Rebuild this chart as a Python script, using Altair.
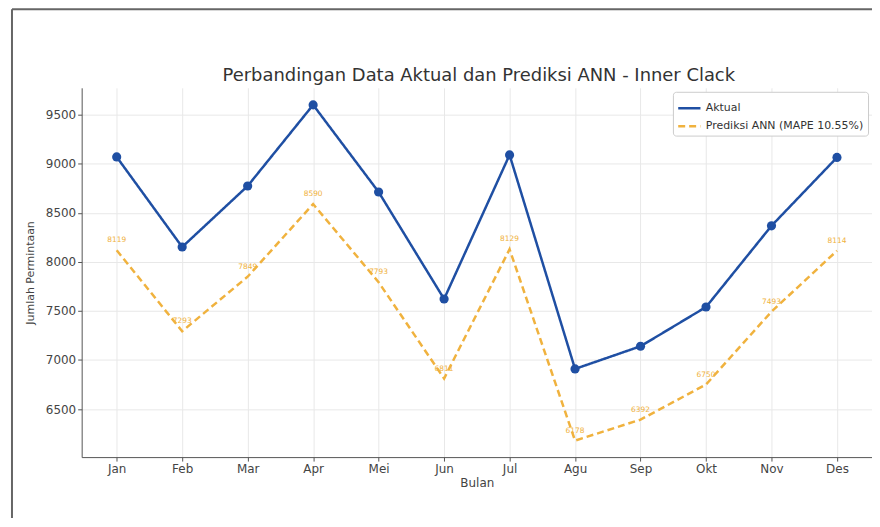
import altair as alt
import pandas as pd

months = ["Jan", "Feb", "Mar", "Apr", "Mei", "Jun", "Jul", "Agu", "Sep", "Okt", "Nov", "Des"]
aktual = [9070, 8152, 8774, 9601, 8713, 7622, 9091, 6909, 7140, 7540, 8368, 9065]
prediksi = [8119, 7293, 7849, 8590, 7793, 6811, 8129, 6178, 6392, 6750, 7493, 8114]
series_names = ["Aktual", "Prediksi ANN (MAPE 10.55%)"]
y_ticks = [6500, 7000, 7500, 8000, 8500, 9000, 9500]
title_text = "Perbandingan Data Aktual dan Prediksi ANN - Inner Clack"

BLUE = "#1f4fa3"
ORANGE = "#f0b23e"

rows = []
for m, a, p in zip(months, aktual, prediksi):
    rows.append({"Bulan": m, "Seri": series_names[0], "Nilai": a})
    rows.append({"Bulan": m, "Seri": series_names[1], "Nilai": p})
df = pd.DataFrame(rows)

x = alt.X("Bulan:N", sort=months, title="Bulan",
          scale=alt.Scale(type="point", padding=0.535),
          axis=alt.Axis(labelAngle=0, grid=True, titlePadding=4, titleFontSize=12))
y = alt.Y("Nilai:Q", title="Jumlah Permintaan",
          scale=alt.Scale(domain=[6010, 9775], nice=False, zero=False),
          axis=alt.Axis(values=y_ticks, format="d", grid=True, titlePadding=10))

base = alt.Chart(df).encode(x=x, y=y)

lines = base.mark_line(strokeWidth=2.5).encode(
    color=alt.Color("Seri:N", scale=alt.Scale(domain=series_names, range=[BLUE, ORANGE]),
                    legend=alt.Legend(title=None, orient="top-right", offset=4,
                                      symbolType="stroke", symbolSize=500,
                                      symbolStrokeWidth=2.5, labelFontSize=11,
                                      labelColor="#333", padding=4, rowPadding=-5,
                                      fillColor="white", strokeColor="#cccccc",
                                      cornerRadius=3)),
    strokeDash=alt.StrokeDash("Seri:N", scale=alt.Scale(domain=series_names, range=[[1, 0], [7, 4]]),
                              legend=None),
)

points = base.transform_filter(alt.datum.Seri == series_names[0]).mark_circle(
    size=85, color=BLUE, opacity=1)

labels = base.transform_filter(alt.datum.Seri == series_names[1]).mark_text(
    dy=-10, fontSize=7.5, color=ORANGE, font="DejaVu Sans").encode(
    text=alt.Text("Nilai:Q", format="d"))

frame_top = alt.Chart(alt.Data(values=[{}])).mark_rule(color="#666", strokeWidth=2).encode(
    x=alt.value(-70), x2=alt.value(900), y=alt.value(-79))
frame_left = alt.Chart(alt.Data(values=[{}])).mark_rule(color="#666", strokeWidth=2).encode(
    x=alt.value(-70), y=alt.value(-79), y2=alt.value(460))

title = alt.Chart(alt.Data(values=[{"t": title_text}])).mark_text(
    fontSize=18, font="DejaVu Sans", color="#333", align="center", baseline="alphabetic"
).encode(text="t:N", x=alt.value(399), y=alt.value(-7))

chart = alt.layer(lines, points, labels, frame_top, frame_left, title).properties(
    width=794, height=371,
    autosize=alt.AutoSizeParams(type="none"),
    padding={"left": 74, "top": 79, "right": 0, "bottom": 60},
).configure_view(stroke=None).configure_axis(
    labelFont="DejaVu Sans", titleFont="DejaVu Sans", labelFontSize=12, titleFontSize=11,
    labelColor="#444", titleColor="#444", titleFontWeight="normal",
    domainColor="#555", tickColor="#555", tickSize=4, gridColor="#e8e8e8",
).configure_legend(labelFont="DejaVu Sans")

chart.save("out.html", embed_options={"renderer": "svg", "actions": False})
